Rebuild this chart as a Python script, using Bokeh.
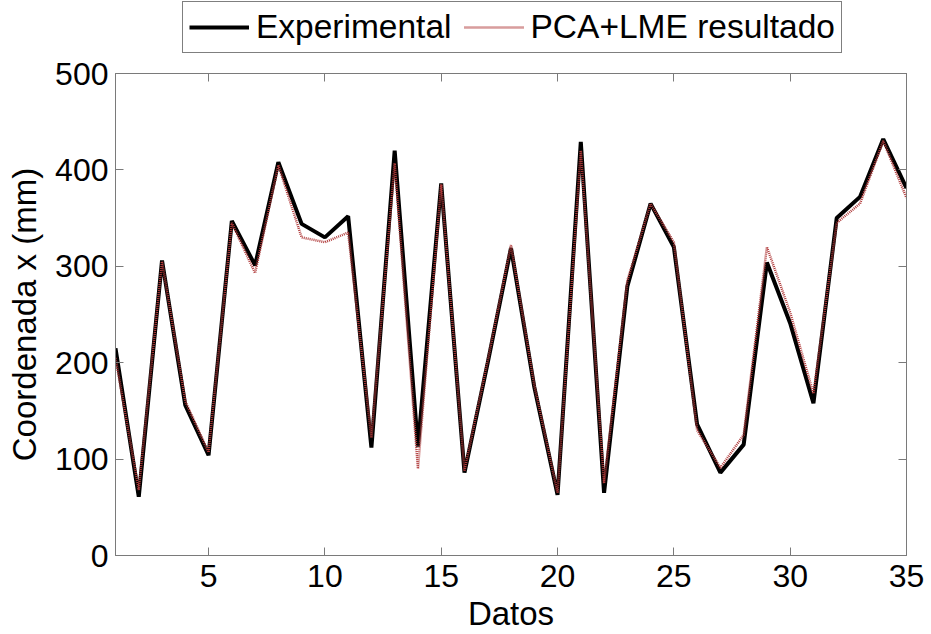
from bokeh.plotting import figure
from bokeh.layouts import column
from bokeh.models import Range1d, FixedTicker, LinearAxis, Legend, LegendItem, CustomJSTickFormatter
from bokeh.embed import file_html
from bokeh.resources import INLINE

# Data
datos = list(range(1, 36))
experimental = [215, 61, 306, 156, 104, 347, 301, 408, 344, 330, 352, 112, 420, 113, 386,
                86, 200, 319, 175, 63, 429, 65, 279, 365, 320, 136, 86, 115, 304, 241,
                158, 350, 372, 432, 381]
pca_lme = [205, 68, 305, 160, 107, 345, 293, 405, 330, 325, 335, 122, 407, 90, 385,
           88, 202, 322, 177, 65, 420, 75, 285, 365, 325, 130, 91, 125, 320, 252,
           168, 345, 365, 430, 371]
x_ticks = [5, 10, 15, 20, 25, 30, 35]
y_ticks = [0, 100, 200, 300, 400, 500]
series_names = ["Experimental", "PCA+LME resultado"]

FONT = "Liberation Sans"
GRAY = "#7a7a7a"
EXP_STYLE = dict(line_color="black", line_width=4)
PCA_STYLE = dict(line_color="#b03a3a", line_width=2.5, line_dash="1 1")

# ---- main plot ----
p = figure(width=931, height=580, output_backend="svg", toolbar_location=None,
           x_range=Range1d(1, 35), y_range=Range1d(0, 500),
           min_border_left=115, min_border_right=25, min_border_top=19, min_border_bottom=78)
p.xaxis.axis_label = "Datos"
p.yaxis.axis_label = "Coordenada x (mm)"
p.grid.visible = False
p.outline_line_color = GRAY
p.background_fill_color = "white"
p.border_fill_color = "white"

p.line(datos, experimental, **EXP_STYLE)
p.line(datos, pca_lme, **PCA_STYLE)

for ax in (p.xaxis[0], p.yaxis[0]):
    ax.axis_line_color = GRAY
    ax.major_tick_line_color = GRAY
    ax.major_tick_in = 8
    ax.major_tick_out = 0
    ax.minor_tick_line_color = None
    ax.major_label_text_font = FONT
    ax.major_label_text_font_size = "32px"
    ax.major_label_text_color = "black"
    ax.axis_label_text_font = FONT
    ax.axis_label_text_font_size = "33px"
    ax.axis_label_text_font_style = "normal"
    ax.axis_label_text_color = "black"

p.xaxis[0].ticker = FixedTicker(ticks=x_ticks)
p.yaxis[0].ticker = FixedTicker(ticks=y_ticks)
p.xaxis[0].major_label_standoff = 9
p.xaxis[0].axis_label_standoff = 5
p.yaxis[0].major_label_standoff = 7
p.yaxis[0].axis_label_standoff = 9

blank = CustomJSTickFormatter(code="return '';")
top = LinearAxis(ticker=FixedTicker(ticks=x_ticks), formatter=blank,
                 major_tick_in=8, major_tick_out=0, minor_tick_line_color=None,
                 axis_line_color=GRAY, major_tick_line_color=GRAY, major_label_standoff=0)
right = LinearAxis(ticker=FixedTicker(ticks=y_ticks), formatter=blank,
                   major_tick_in=8, major_tick_out=0, minor_tick_line_color=None,
                   axis_line_color=GRAY, major_tick_line_color=GRAY, major_label_standoff=0)
p.add_layout(top, "above")
p.add_layout(right, "right")

# ---- legend strip above the plot (its lines fall outside its own ranges) ----
lg = figure(width=931, height=54, output_backend="svg", toolbar_location=None,
            x_range=Range1d(-2, -1), y_range=Range1d(-2, -1),
            min_border_left=115, min_border_right=25, min_border_top=0, min_border_bottom=0)
lg.axis.visible = False
lg.grid.visible = False
lg.outline_line_color = None
lg_r1 = lg.line(datos, experimental, **EXP_STYLE)
lg_r2 = lg.line(datos, pca_lme, **PCA_STYLE)

legend = Legend(items=[LegendItem(label=series_names[0], renderers=[lg_r1]),
                       LegendItem(label=series_names[1], renderers=[lg_r2])],
                orientation="horizontal", location=(67, 1),
                label_text_font=FONT, label_text_font_size="33.5px",
                label_text_color="black",
                label_height=34, glyph_height=34, glyph_width=60,
                label_standoff=7, spacing=12, padding=6, margin=0,
                border_line_color="black", border_line_width=1,
                background_fill_color="white", background_fill_alpha=1)
lg.add_layout(legend, "center")

layout = column(lg, p, spacing=0)
open("out.html", "w").write(file_html(layout, INLINE))
